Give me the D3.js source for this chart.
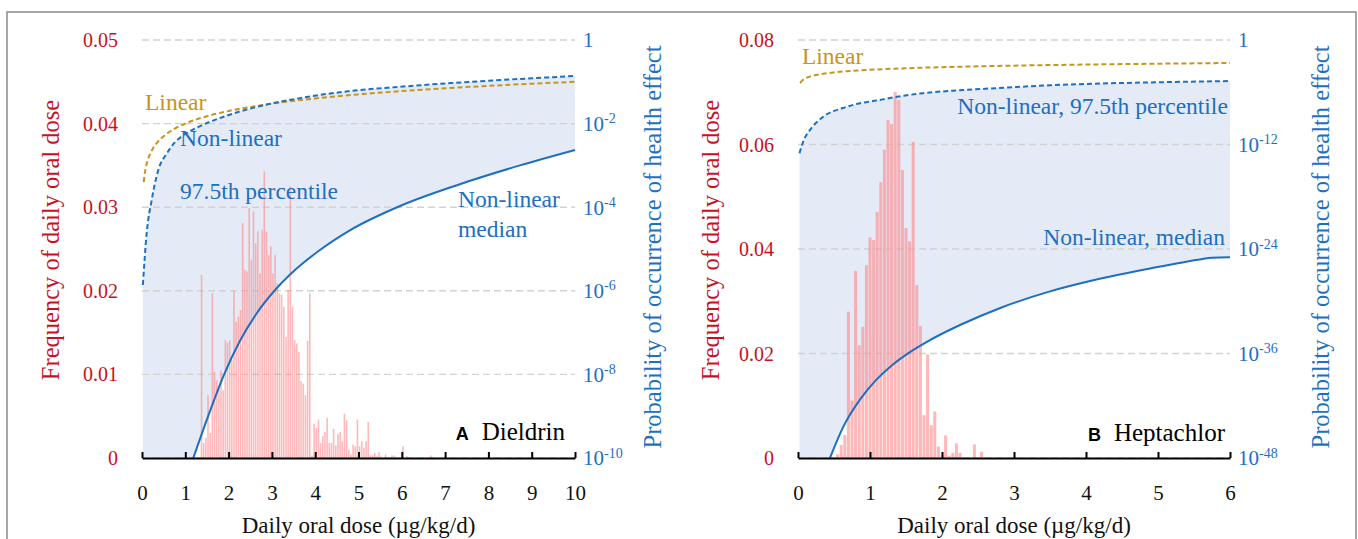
<!DOCTYPE html>
<html>
<head>
<meta charset="utf-8">
<script src="https://d3js.org/d3.v7.min.js"></script>
<style>
  body { margin: 0; background: #fff; }
  text { font-family: "Liberation Serif", "Times New Roman", serif; }
</style>
</head>
<body>
<svg id="chart" width="1358" height="539" font-family="Liberation Serif"></svg>
<script>

// ---- Panel A: Dieldrin ----
var dieldrinBins = [1.375,1.425,1.475,1.525,1.575,1.625,1.675,1.725,1.775,1.825,1.875,1.925,1.975,2.025,2.075,2.125,2.175,2.225,2.275,2.325,
  2.375,2.425,2.475,2.525,2.575,2.625,2.675,2.725,2.775,2.825,2.875,2.925,2.975,3.025,3.075,3.125,3.175,3.225,3.275,3.325,
  3.375,3.425,3.475,3.525,3.575,3.625,3.675,3.725,3.775,3.825,3.875,3.925,3.975,4.025,4.075,4.125,4.175,4.225,4.275,4.325,
  4.375,4.425,4.475,4.525,4.575,4.625,4.675,4.725,4.775,4.825,4.875,4.925,4.975,5.025,5.075,5.125,5.175,5.225,5.275,5.325,
  5.375,5.425,5.475,5.525,5.575,5.625,5.675,5.725,5.775,5.825,5.875,5.925,5.975,6.025,6.075,6.125,6.175,6.225,6.275,6.325,
  6.375,6.425,6.475,6.525,6.575,6.625,6.675];
var dieldrinFreq = [0.0219,0.0018,0.0024,0.0075,0.0030,0.0197,0.0103,0.0093,0.0085,0.0105,0.0081,0.0141,0.0138,0.0141,0.0117,0.0200,0.0163,0.0169,0.0177,0.0281,
  0.0225,0.0223,0.0299,0.0237,0.0295,0.0257,0.0271,0.0221,0.0273,0.0343,0.0271,0.0243,0.0253,0.0221,0.0243,0.0209,0.0197,0.0195,0.0181,0.0145,
  0.0201,0.0325,0.0181,0.0141,0.0137,0.0127,0.0092,0.0089,0.0075,0.0140,0.0197,0.0003,0.0041,0.0036,0.0046,0.0018,0.0026,0.0031,0.0048,0.0018,
  0.0018,0.0035,0.0015,0.0029,0.0031,0.0020,0.0053,0.0045,0.0010,0.0004,0.0016,0.0014,0.0046,0.0014,0.0020,0.0012,0.0020,0.0043,0.0003,0.0003,
  0.0006,0.0002,0.0007,0.0002,0,0.0004,0,0,0.0003,0.0003,0,0,0,0.0014,0,0.0002,0,0,0,0,
  0,0,0,0,0,0,0.0003];

var dieldrinLinDose  = [0.04,0.06,0.1,0.2,0.35,0.5,0.75,1,1.5,2,3,4,5,6,7,8,9,10];
var dieldrinLinProb  = [4e-4,6e-4,1e-3,2e-3,3.5e-3,5e-3,7.5e-3,0.01,0.015,0.02,0.03,0.04,0.05,0.06,0.07,0.08,0.09,0.1];
var dieldrinUpDose   = [0.02,0.108,0.224,0.376,0.57,0.762,0.924,1.34,1.92,2.73,3.65,4.8,5.96,7.11,8.27,10];
var dieldrinUpProb   = [1.38e-6,2.4e-5,1.48e-4,7.8e-4,1.9e-3,3.6e-3,5.0e-3,8.7e-3,1.5e-2,2.63e-2,4.07e-2,6.0e-2,7.6e-2,9.3e-2,0.11,0.138];
var dieldrinMedDose  = [1.185,1.57,1.88,2.26,2.65,3.11,3.42,4.11,4.8,5.96,7.34,8.73,10];
var dieldrinMedProb  = [1e-10,1.32e-9,9.1e-9,6.3e-8,2.9e-7,1.15e-6,2.45e-6,9.5e-6,2.8e-5,1.07e-4,3.55e-4,1e-3,2.34e-3];

var dieldrinXTicks   = [0,1,2,3,4,5,6,7,8,9,10];
var dieldrinFTicks   = [0,0.01,0.02,0.03,0.04,0.05];
var dieldrinPExps    = [0,-2,-4,-6,-8,-10];

// ---- Panel B: Heptachlor ----
var heptaBins = [0.55,0.6,0.65,0.7,0.75,0.8,0.85,0.9,0.95,1.0,1.05,1.1,1.15,1.2,1.25,1.3,1.35,1.4,1.45,1.5,
  1.55,1.6,1.65,1.7,1.75,1.8,1.85,1.9,1.95,2.0,2.05,2.1,2.15,2.2,2.25,2.3,2.35,2.4,2.45,2.5,2.55];
var heptaFreq = [0.0007,0.0025,0.0044,0.0280,0.0110,0.0358,0.0216,0.0251,0.0369,0.0422,0.0417,0.0471,0.0528,0.0590,0.0647,0.0639,0.0701,0.0685,0.0551,0.0440,
  0.0415,0.0605,0.0331,0.0253,0.0082,0.0198,0.0063,0.0089,0.0022,0.0005,0.0043,0.0004,0.0010,0.0028,0.0010,0,0,0,0.0026,0,0.0012];

var heptaLinDose  = [0.03,0.06,0.1,0.2,0.35,0.5,0.75,1,1.5,2,3,4,5,6];
var heptaLinProb  = [1.14e-5,2.3e-5,3.8e-5,7.6e-5,1.33e-4,1.9e-4,2.85e-4,3.8e-4,5.7e-4,7.6e-4,1.14e-3,1.52e-3,1.9e-3,2.28e-3];
var heptaUpDose   = [0.02,0.08,0.167,0.35,0.625,0.815,1.09,1.28,1.74,2.2,2.67,3.5,4.19,5,6];
var heptaUpProb   = [1e-13,3.2e-12,4.7e-11,1.55e-9,1.55e-8,4.5e-8,1.1e-7,2.2e-7,7.9e-7,1.6e-6,2.7e-6,6.3e-6,1e-5,1.4e-5,1.95e-5];
var heptaMedDose  = [0.444,0.63,0.86,1.09,1.32,1.56,1.79,2.25,2.81,3.5,4.19,4.89,5.58,5.75,6];
var heptaMedProb  = [1e-48,4e-45,5e-42,1e-39,5.6e-38,1.55e-36,2.2e-35,1.86e-33,1.7e-31,1.35e-29,3.8e-28,5.9e-27,6.3e-26,1e-25,1.1e-25];

var heptaXTicks   = [0,1,2,3,4,5,6];
var heptaFTicks   = [0,0.02,0.04,0.06,0.08];
var heptaPExps    = [0,-12,-24,-36,-48];

var RED = "#c8101e", BLUE = "#1c6fc1", GOLD = "#c9941c";
var SERIF = "Liberation Serif";
var svg = d3.select("#chart");

// outer frame
svg.append("rect").attr("x", 7).attr("y", 12).attr("width", 1349).attr("height", 560)
   .attr("fill", "none").attr("stroke", "#8a8a8a").attr("stroke-width", 1.5);

var panels = [
  { left: 142, right: 575, xMax: 10, fMax: 0.05, pMin: 1e-10,
    bins: dieldrinBins, freq: dieldrinFreq, xTicks: dieldrinXTicks, fTicks: dieldrinFTicks, pExps: dieldrinPExps,
    lin: [dieldrinLinDose, dieldrinLinProb], up: [dieldrinUpDose, dieldrinUpProb], med: [dieldrinMedDose, dieldrinMedProb],
    leftTitleX: 50, rightTitleX: 652, letter: "A", name: "Dieldrin",
    notes: [
      { t: "Linear", x: 0.07, f: 0.0416, c: GOLD, a: "start" },
      { t: "Non-linear", x: 0.88, f: 0.0373, c: BLUE, a: "start" },
      { t: "97.5th percentile", x: 0.88, f: 0.0310, c: BLUE, a: "start" },
      { t: "Non-linear", x: 7.3, f: 0.0300, c: BLUE, a: "start" },
      { t: "median", x: 7.3, f: 0.0264, c: BLUE, a: "start" }
    ],
    labelX: 9.77, labelF: 0.0021 },
  { left: 798, right: 1230, xMax: 6, fMax: 0.08, pMin: 1e-48,
    bins: heptaBins, freq: heptaFreq, xTicks: heptaXTicks, fTicks: heptaFTicks, pExps: heptaPExps,
    lin: [heptaLinDose, heptaLinProb], up: [heptaUpDose, heptaUpProb], med: [heptaMedDose, heptaMedProb],
    leftTitleX: 710, rightTitleX: 1320, letter: "B", name: "Heptachlor",
    notes: [
      { t: "Linear", x: 0.055, f: 0.0754, c: GOLD, a: "start" },
      { t: "Non-linear, 97.5th percentile", x: 5.97, f: 0.0658, c: BLUE, a: "end" },
      { t: "Non-linear, median", x: 5.93, f: 0.0408, c: BLUE, a: "end" }
    ],
    labelX: 5.93, labelF: 0.0033 }
];

var plotBottom = 458, plotTop = 40;

panels.forEach(function (p) {
  var x = d3.scaleLinear().domain([0, p.xMax]).range([p.left, p.right]);
  var yF = d3.scaleLinear().domain([0, p.fMax]).range([plotBottom, plotTop]);
  var yP = d3.scaleLog().domain([p.pMin, 1]).range([plotBottom, plotTop]);
  var g = svg.append("g");

  function pairs(a) { return a[0].map(function (d, i) { return [d, a[1][i]]; }); }
  var lin = pairs(p.lin), up = pairs(p.up), med = pairs(p.med);

  var line = d3.line().x(d => x(d[0])).y(d => yP(d[1])).curve(d3.curveMonotoneX);
  var area = d3.area().x(d => x(d[0])).y0(plotBottom).y1(d => yP(d[1])).curve(d3.curveMonotoneX);

  // shaded band between 97.5th percentile and median
  g.append("path").datum(up).attr("d", area).attr("fill", "#e4ebf6");
  g.append("path").datum(med).attr("d", area).attr("fill", "#fff");

  // gridlines
  g.selectAll(".grid").data(p.fTicks).enter().append("line")
    .attr("x1", p.left).attr("x2", p.right)
    .attr("y1", d => yF(d)).attr("y2", d => yF(d))
    .attr("stroke", "#d2d2d2").attr("stroke-width", 1.4).attr("stroke-dasharray", "7,4");

  // histogram
  var bw = x(0.05) - x(0);
  g.selectAll(".bar").data(p.freq).enter().append("rect")
    .attr("x", (d, i) => x(p.bins[i]) - bw / 2 + 0.3)
    .attr("width", bw - 0.6)
    .attr("y", d => yF(d))
    .attr("height", d => plotBottom - yF(d))
    .attr("fill", "#ff8a8a").attr("fill-opacity", 0.62);

  // curves
  g.append("path").datum(lin).attr("d", line).attr("fill", "none")
    .attr("stroke", GOLD).attr("stroke-width", 2).attr("stroke-dasharray", "5,3");
  g.append("path").datum(up).attr("d", line).attr("fill", "none")
    .attr("stroke", BLUE).attr("stroke-width", 2).attr("stroke-dasharray", "5,3");
  g.append("path").datum(med).attr("d", line).attr("fill", "none")
    .attr("stroke", BLUE).attr("stroke-width", 2);

  // x axis
  var xAxis = d3.axisBottom(x).tickValues(p.xTicks).tickFormat(d3.format("d"))
    .tickSizeInner(-6).tickSizeOuter(0).tickPadding(27);
  var ax = g.append("g").attr("transform", "translate(0," + plotBottom + ")").call(xAxis)
    .attr("font-family", SERIF);
  ax.select(".domain").attr("stroke", "#000").attr("stroke-width", 2);
  ax.selectAll(".tick line").attr("stroke", "#000").attr("stroke-width", 2);
  ax.selectAll(".tick text").attr("font-size", 21).attr("fill", "#111");

  // left (frequency) tick labels
  g.selectAll(".fl").data(p.fTicks).enter().append("text")
    .attr("x", p.left - 24).attr("y", d => yF(d)).attr("dy", "0.35em")
    .attr("text-anchor", "end").attr("font-size", 20).attr("fill", RED)
    .text(d => d === 0 ? "0" : d3.format(".2f")(d));

  // right (probability) tick labels
  var pl = g.selectAll(".pl").data(p.pExps).enter().append("text")
    .attr("x", p.right + 8).attr("y", d => yP(Math.pow(10, d))).attr("dy", "0.35em")
    .attr("font-size", 21).attr("fill", BLUE);
  pl.append("tspan").text(d => d === 0 ? "1" : "10");
  pl.filter(d => d !== 0).append("tspan").attr("dy", "-0.55em").attr("font-size", 14).text(d => String(d));

  // axis titles
  g.append("text").attr("transform", "translate(" + p.leftTitleX + ",240) rotate(-90)")
    .attr("text-anchor", "middle").attr("dy", "0.35em").attr("font-size", 24.5).attr("fill", RED)
    .text("Frequency of daily oral dose");
  g.append("text").attr("transform", "translate(" + p.rightTitleX + ",247) rotate(-90)")
    .attr("text-anchor", "middle").attr("dy", "0.35em").attr("font-size", 24.5).attr("fill", BLUE)
    .text("Probability of occurrence of health effect");
  g.append("text").attr("x", (p.left + p.right) / 2).attr("y", 533)
    .attr("text-anchor", "middle").attr("font-size", 23).attr("fill", "#111")
    .text("Daily oral dose (\u00b5g/kg/d)");

  // curve annotations
  g.selectAll(".note").data(p.notes).enter().append("text")
    .attr("x", d => x(d.x)).attr("y", d => yF(d.f))
    .attr("text-anchor", d => d.a).attr("font-size", 23.5).attr("fill", d => d.c)
    .text(d => d.t);

  // panel label
  var lab = g.append("text").attr("x", x(p.labelX)).attr("y", yF(p.labelF))
    .attr("text-anchor", "end").attr("fill", "#000");
  lab.append("tspan").attr("font-family", "Liberation Sans").attr("font-weight", "bold")
    .attr("font-size", 18).text(p.letter);
  lab.append("tspan").attr("dx", 13).attr("font-size", 25).text(p.name);
});

</script>
</body>
</html>
